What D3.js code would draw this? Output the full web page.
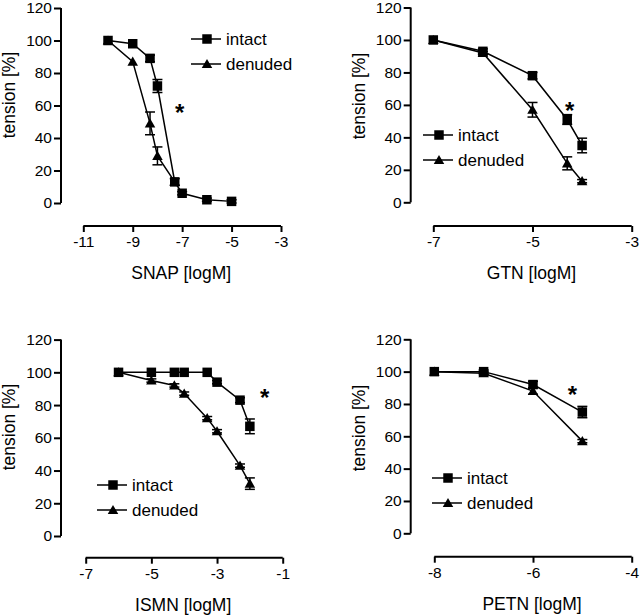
<!DOCTYPE html>
<html><head><meta charset="utf-8">
<script src="https://cdn.jsdelivr.net/npm/d3@7"></script>
<style>
body{margin:0;background:#fff;}
svg{display:block;font-family:"Liberation Sans",Arial,Helvetica,sans-serif;}
</style></head>
<body><svg id="c" width="640" height="615"></svg>
<script>
// ---- data ----
const xTitles = ["SNAP [logM]", "GTN [logM]", "ISMN [logM]", "PETN [logM]"];
const yTitle = "tension [%]";
const seriesNames = ["intact", "denuded"];
const yTicks = [0, 20, 40, 60, 80, 100, 120];

const snapXTicks = [-11, -9, -7, -5, -3];
const snapIntactX = [-10, -9, -8.3, -8, -7.3, -7, -6, -5];
const snapIntactY = [100, 98, 89, 72, 13, 6, 2, 1];
const snapIntactErr = [0, 0, 2, 4, 2, 1, 1, 1];
const snapDenudedX = [-10, -9, -8.3, -8, -7.3];
const snapDenudedY = [100, 87, 49, 29, 13];
const snapDenudedErr = [0, 0, 7, 5.5, 0];

const gtnXTicks = [-7, -5, -3];
const gtnIntactX = [-7, -6, -5, -4.3, -4];
const gtnIntactY = [100, 93, 78, 51, 35];
const gtnIntactErr = [0, 1.5, 2, 3, 4.5];
const gtnDenudedX = [-7, -6, -5, -4.3, -4];
const gtnDenudedY = [100, 92, 57, 24, 13];
const gtnDenudedErr = [0, 1, 4.5, 4, 1];

const ismnXTicks = [-7, -5, -3, -1];
const ismnIntactX = [-6, -5, -4.3, -4, -3.3, -3, -2.3, -2];
const ismnIntactY = [100, 100, 100, 100, 100, 94, 83, 67];
const ismnIntactErr = [0, 0, 0, 0, 0, 1, 1.5, 4.5];
const ismnDenudedX = [-6, -5, -4.3, -4, -3.3, -3, -2.3, -2];
const ismnDenudedY = [100, 95, 92, 87, 72, 64, 43, 32];
const ismnDenudedErr = [0, 1, 1, 1, 1, 1, 1, 3.5];

const petnXTicks = [-8, -6, -4];
const petnIntactX = [-8, -7, -6, -5];
const petnIntactY = [100, 100, 92, 75];
const petnIntactErr = [0, 1, 2, 3.5];
const petnDenudedX = [-8, -7, -6, -5];
const petnDenudedY = [100, 99, 88, 57];
const petnDenudedErr = [0, 1, 2, 1];

// significance star positions (data coords)
const starX = [-7.1, -4.25, -1.55, -5.2];
const starY = [59, 60, 88, 89];

// ---- layout ----
const layout = [
  {ax: 61,    y0: 203,   y120: 8,     xAxisY: 226,   xr: [83.3, 281],   legX: 191, legY: 39,  ytc: 95},
  {ax: 410.7, y0: 202.3, y120: 7.5,   xAxisY: 226,   xr: [433.3, 631.7], legX: 423, legY: 135, ytc: 96},
  {ax: 61,    y0: 536,   y120: 339.6, xAxisY: 557.7, xr: [85.7, 282.7], legX: 97,  legY: 485, ytc: 427},
  {ax: 410.7, y0: 533.3, y120: 339.3, xAxisY: 556.7, xr: [434.3, 631.7], legX: 432, legY: 478, ytc: 428}
];

const panels = [
  {xt: snapXTicks, series: [[snapIntactX, snapIntactY, snapIntactErr], [snapDenudedX, snapDenudedY, snapDenudedErr]]},
  {xt: gtnXTicks, series: [[gtnIntactX, gtnIntactY, gtnIntactErr], [gtnDenudedX, gtnDenudedY, gtnDenudedErr]]},
  {xt: ismnXTicks, series: [[ismnIntactX, ismnIntactY, ismnIntactErr], [ismnDenudedX, ismnDenudedY, ismnDenudedErr]]},
  {xt: petnXTicks, series: [[petnIntactX, petnIntactY, petnIntactErr], [petnDenudedX, petnDenudedY, petnDenudedErr]]}
];

const svg = d3.select("#c");
const sq = d3.symbol().type(d3.symbolSquare).size(90);
const tri = d3.symbol().type(d3.symbolTriangle).size(48);

panels.forEach((p, i) => {
  const L = layout[i];
  const g = svg.append("g");
  const x = d3.scaleLinear().domain([p.xt[0], p.xt[p.xt.length - 1]]).range(L.xr);
  const y = d3.scaleLinear().domain([0, 120]).range([L.y0, L.y120]);

  // y axis
  const ya = g.append("g").attr("transform", `translate(${L.ax},0)`)
    .call(d3.axisLeft(y).tickValues(yTicks).tickSize(7).tickPadding(2));
  ya.selectAll("path").attr("stroke-width", 2).attr("d", `M0,${L.y120}V${L.y0}`);
  ya.selectAll("line").attr("stroke-width", 2);
  ya.selectAll("text").attr("font-size", 15.5).attr("fill", "#000").attr("font-family", null);

  // x axis
  const xa = g.append("g").attr("transform", `translate(0,${L.xAxisY})`)
    .call(d3.axisBottom(x).tickValues(p.xt).tickSize(6).tickPadding(4).tickFormat(d3.format("d")));
  xa.selectAll("path").attr("stroke-width", 2).attr("d", `M${L.xr[0]},0H${L.xr[1]}`);
  xa.selectAll("line").attr("stroke-width", 2);
  xa.selectAll("text").attr("font-size", 15.5).attr("fill", "#000").attr("font-family", null)
    .text(d => d3.format("d")(d).replace("−", "-"));

  // titles
  g.append("text").attr("x", (L.xr[0] + L.xr[1]) / 2 - 1).attr("y", L.xAxisY + 53)
    .attr("text-anchor", "middle").attr("font-size", 17.5).text(xTitles[i]);
  g.append("text").attr("transform", `translate(${L.ax - 46},${L.ytc}) rotate(-90)`)
    .attr("text-anchor", "middle").attr("font-size", 17.5).text(yTitle);

  // lines
  const line = d3.line().x(d => x(d[0])).y(d => y(d[1]));
  const sers = p.series.map(s => s[0].map((xv, k) => [xv, s[1][k], s[2][k]]));
  [1, 0].forEach(si => {
    g.append("path").datum(sers[si]).attr("d", line).attr("fill", "none")
      .attr("stroke", "#000").attr("stroke-width", 1.5);
  });
  // error bars
  [1, 0].forEach(si => {
    const eb = g.append("g").attr("stroke", "#000").attr("stroke-width", 1.5);
    sers[si].filter(d => d[2] > 0).forEach(d => {
      const cx = x(d[0]), t = y(d[1] + d[2]), b = y(d[1] - d[2]);
      eb.append("line").attr("x1", cx).attr("x2", cx).attr("y1", t).attr("y2", b);
      eb.append("line").attr("x1", cx - 5).attr("x2", cx + 5).attr("y1", t).attr("y2", t);
      eb.append("line").attr("x1", cx - 5).attr("x2", cx + 5).attr("y1", b).attr("y2", b);
    });
  });
  // markers
  g.append("g").selectAll("path").data(sers[1]).join("path")
    .attr("transform", d => `translate(${x(d[0])},${y(d[1]) + 1})`).attr("d", tri).attr("fill", "#000");
  g.append("g").selectAll("path").data(sers[0]).join("path")
    .attr("transform", d => `translate(${x(d[0])},${y(d[1])})`).attr("d", sq).attr("fill", "#000");

  // star
  g.append("text").attr("x", x(starX[i])).attr("y", y(starY[i]) + 14)
    .attr("text-anchor", "middle").attr("font-size", 24).attr("font-weight", "bold").text("*");

  // legend
  seriesNames.forEach((nm, k) => {
    const ly = L.legY + k * 25;
    g.append("line").attr("x1", L.legX).attr("x2", L.legX + 30).attr("y1", ly).attr("y2", ly)
      .attr("stroke", "#000").attr("stroke-width", 1.5);
    g.append("path").attr("transform", `translate(${L.legX + 16},${ly + (k ? 1 : 0)})`)
      .attr("d", k ? tri : sq).attr("fill", "#000");
    g.append("text").attr("x", L.legX + 35).attr("y", ly).attr("dy", "0.36em")
      .attr("font-size", 17).text(nm);
  });
});
</script></body></html>
